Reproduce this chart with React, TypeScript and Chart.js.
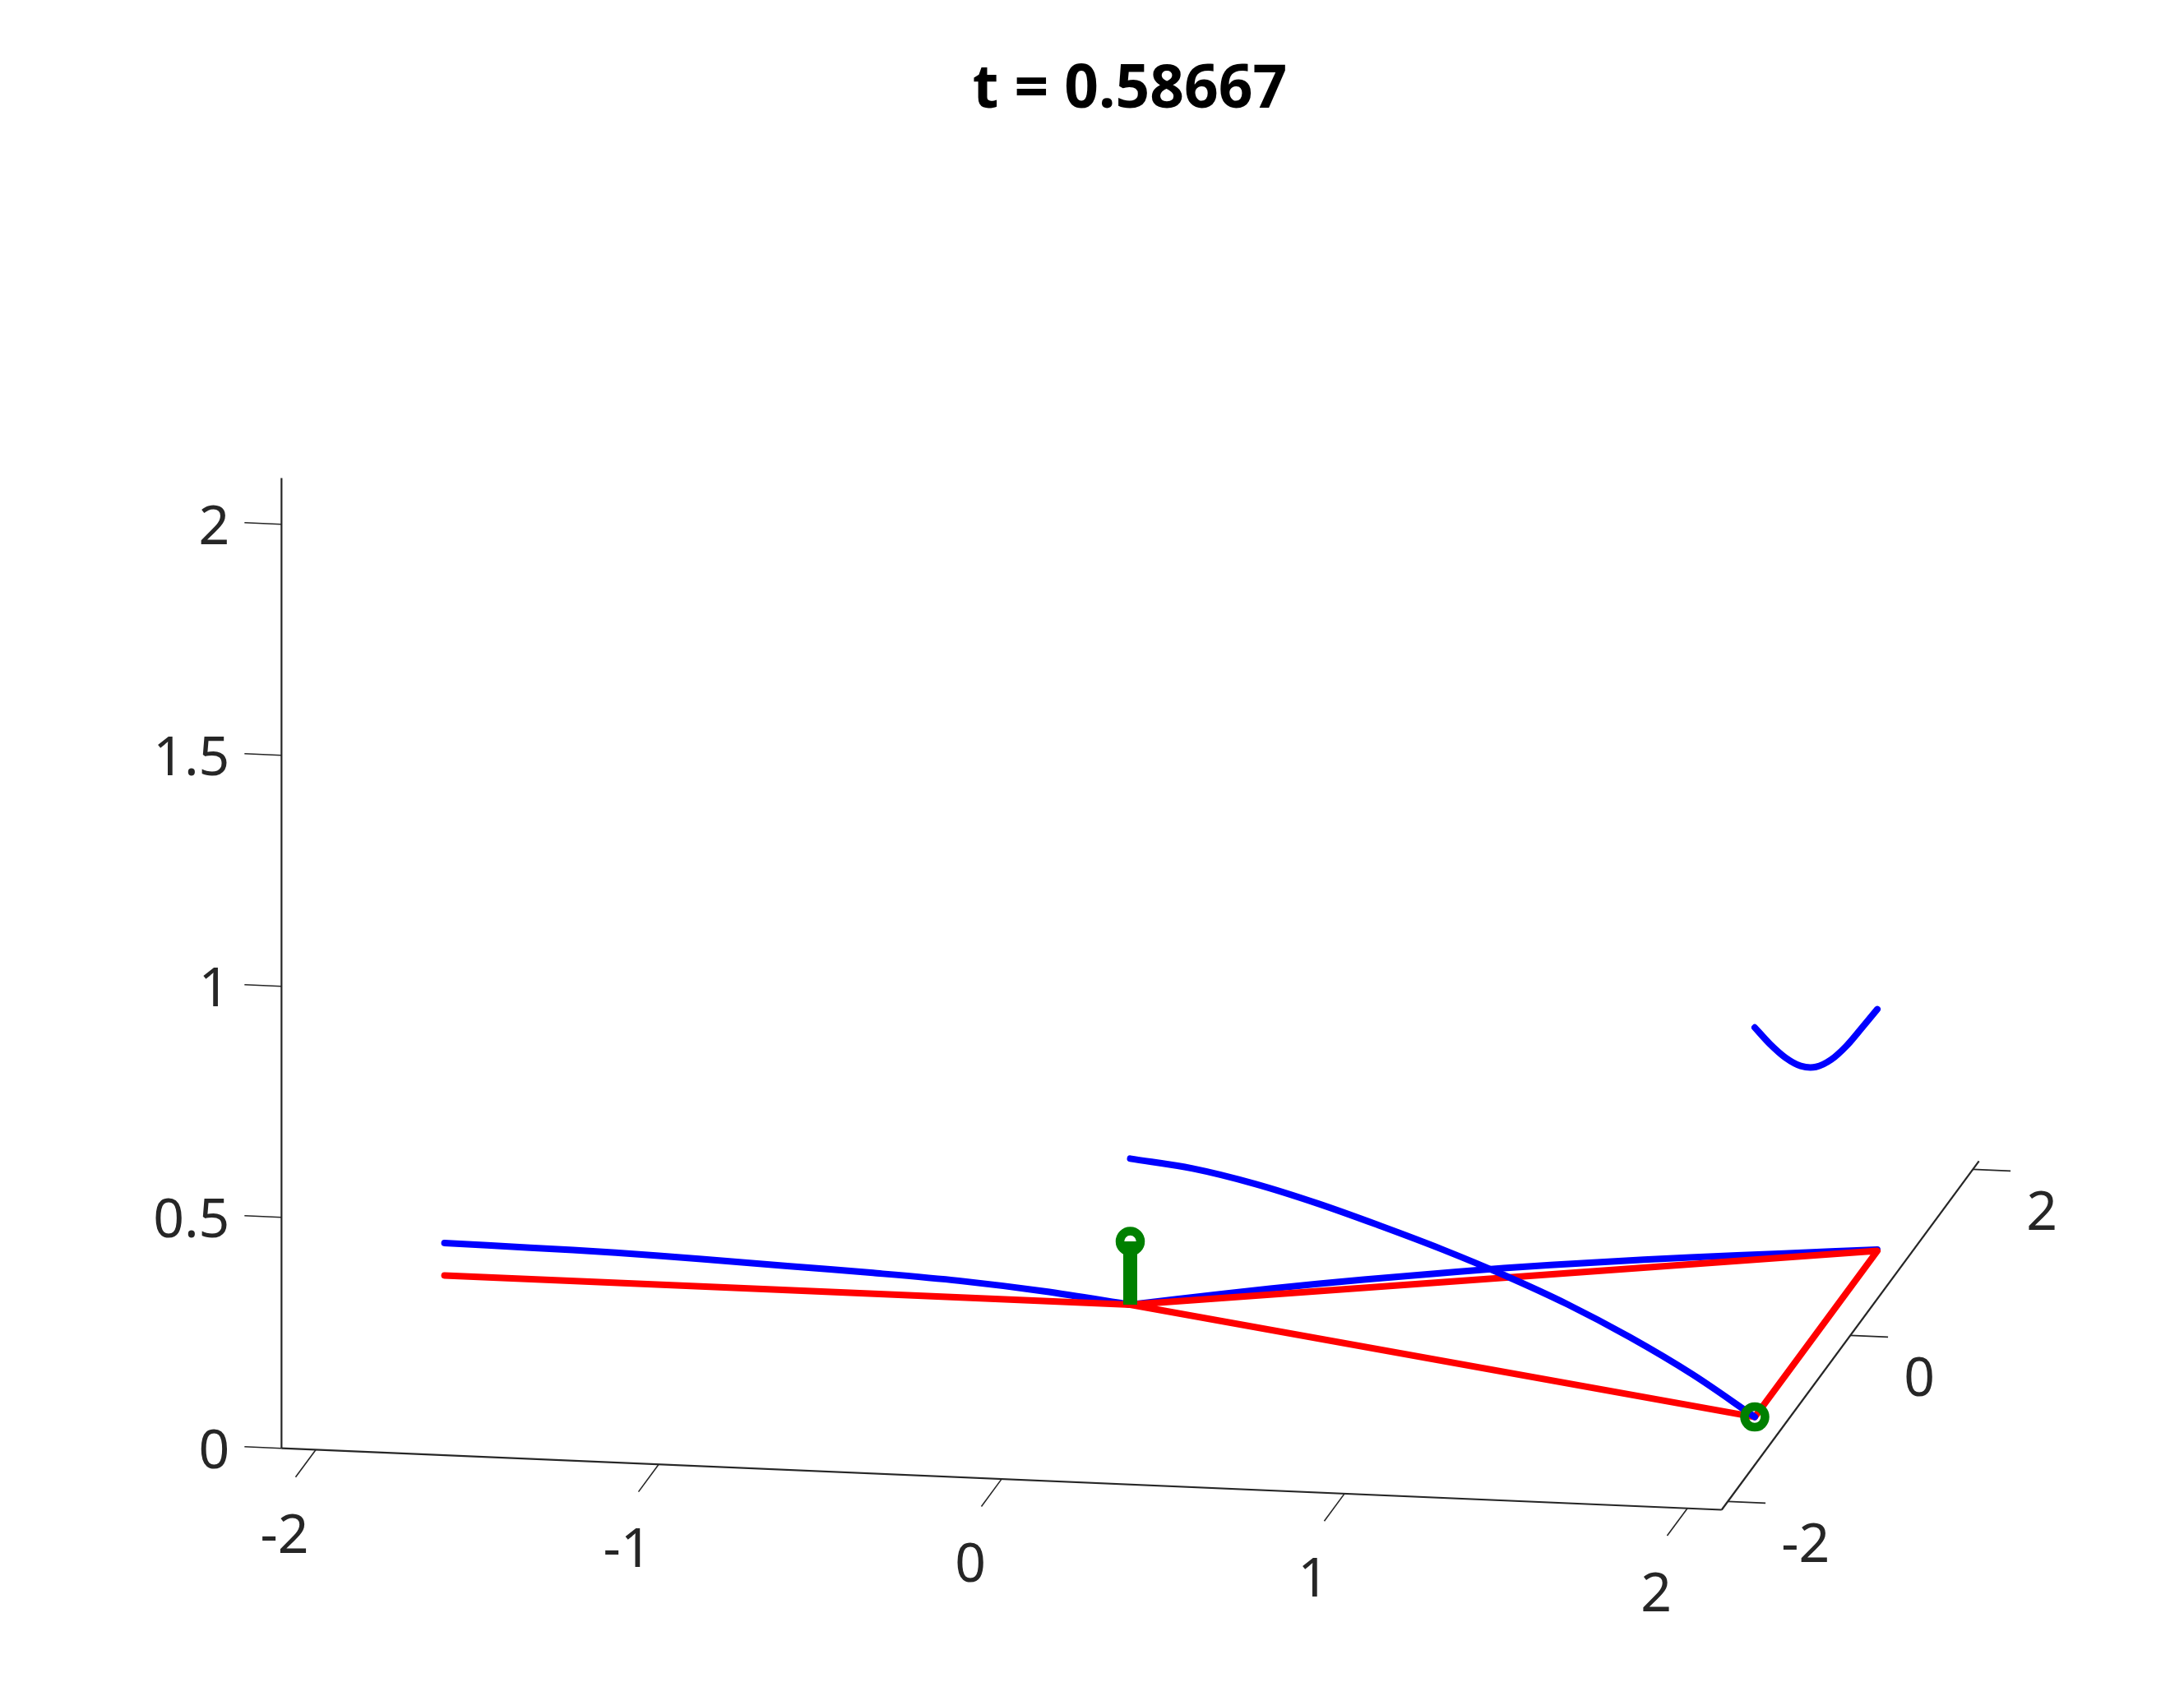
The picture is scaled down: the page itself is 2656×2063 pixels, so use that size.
import { useEffect, useRef } from "react";
import { Chart, registerables } from "chart.js";

Chart.register(...registerables);

const W = 2656;
const H = 2063;

const TITLE = "t = 0.58667";

// axis limits and ticks
const X_LIM = [-2.1, 2.1];
const Y_LIM = [-2.1, 2.1];
const Z_LIM = [0, 2.1];
const X_TICKS = [-2, -1, 0, 1, 2];
const X_TICK_LABELS = ["-2", "-1", "0", "1", "2"];
const Y_TICKS = [-2, 0, 2];
const Y_TICK_LABELS = ["-2", "0", "2"];
const Z_TICKS = [0, 0.5, 1, 1.5, 2];
const Z_TICK_LABELS = ["0", "0.5", "1", "1.5", "2"];

// undeformed frame (red): A -> B -> C -> D -> B
const FRAME_X = [-2, 0, 2, 2, 0];
const FRAME_Y = [0, 0, -1, 1, 0];
const FRAME_Z = [0, 0, 0, 0, 0];

// deformed members (blue)
const BEAM_LEFT_X = [-2, -1.75, -1.5, -1.25, -1, -0.75, -0.5, -0.25, 0];
const BEAM_LEFT_Y = [0, 0, 0, 0, 0, 0, 0, 0, 0];
const BEAM_LEFT_Z = [0.07, 0.068, 0.065, 0.059, 0.052, 0.045, 0.036, 0.021, 0];

const BEAM_RIGHT_X = [0, 0.25, 0.5, 0.75, 1, 1.25, 1.5, 1.75, 2];
const BEAM_RIGHT_Y = [0, 0.125, 0.25, 0.375, 0.5, 0.625, 0.75, 0.875, 1];
const BEAM_RIGHT_Z = [0, 0.009, 0.016, 0.019, 0.021, 0.019, 0.015, 0.009, 0.003];

const ARC_X = [0, 0.2, 0.4, 0.6, 0.8, 1.0, 1.2, 1.4, 1.6, 1.8, 2.0];
const ARC_Y = [0, -0.1, -0.2, -0.3, -0.4, -0.5, -0.6, -0.7, -0.8, -0.9, -1.0];
const ARC_Z = [0.316, 0.319, 0.31, 0.292, 0.268, 0.241, 0.209, 0.171, 0.124, 0.068, 0];

const CABLE_X = [2, 2, 2, 2, 2, 2, 2, 2, 2];
const CABLE_Y = [-1, -0.75, -0.5, -0.25, 0, 0.25, 0.5, 0.75, 1];
const CABLE_Z = [0.843, 0.762, 0.688, 0.625, 0.578, 0.549, 0.534, 0.528, 0.523];

// stems (green)
const STEM_X = [0, 2];
const STEM_Y = [0, -1];
const STEM_Z = [0.137, 0];

// view: orthographic projection of the 3-D axes onto the canvas
const VIEW = {
  origin: [1374.5, 1587],
  ex: [417, 17.8],
  ey: [74.5, -101],
  ez: [0, -562],
};

const proj = (x: number, y: number, z: number) => ({
  x: VIEW.origin[0] + x * VIEW.ex[0] + y * VIEW.ey[0] + z * VIEW.ez[0],
  y: VIEW.origin[1] + x * VIEW.ex[1] + y * VIEW.ey[1] + z * VIEW.ez[1],
});

const pts = (xs: number[], ys: number[], zs: number[]) =>
  xs.map((x, i) => proj(x, ys[i], zs[i]));

const AXIS_COLOR = "#262626";
const LINE_W = 8;

function lineDs(data: any[], color: string, width: number, tension = 0) {
  return {
    data,
    showLine: true,
    borderColor: color,
    backgroundColor: color,
    borderWidth: width,
    pointRadius: 0,
    pointHoverRadius: 0,
    tension,
    borderCapStyle: "round" as const,
    borderJoinStyle: "round" as const,
    fill: false,
  };
}

export default function App() {
  const ref = useRef<HTMLCanvasElement | null>(null);

  useEffect(() => {
    if (!ref.current) return;

    const datasets: any[] = [];

    // green markers (top)
    datasets.push({
      data: pts(STEM_X, STEM_Y, STEM_Z),
      showLine: false,
      pointStyle: "circle",
      pointRadius: 12.5,
      pointBorderWidth: 10.5,
      pointBackgroundColor: "rgba(0,0,0,0)",
      pointBorderColor: "#008000",
      borderColor: "#008000",
    });
    // green stems
    STEM_X.forEach((sx, i) => {
      datasets.push({
        ...lineDs(
          [proj(sx, STEM_Y[i], 0), proj(sx, STEM_Y[i], STEM_Z[i])],
          "#008000",
          17
        ),
        borderCapStyle: "butt",
      });
    });

    // blue arc
    datasets.push(lineDs(pts(ARC_X, ARC_Y, ARC_Z), "#0000ff", LINE_W, 0.35));
    // red frame
    datasets.push(lineDs(pts(FRAME_X, FRAME_Y, FRAME_Z), "#ff0000", LINE_W));
    // other blue members
    datasets.push(lineDs(pts(BEAM_LEFT_X, BEAM_LEFT_Y, BEAM_LEFT_Z), "#0000ff", LINE_W, 0.3));
    datasets.push(lineDs(pts(BEAM_RIGHT_X, BEAM_RIGHT_Y, BEAM_RIGHT_Z), "#0000ff", LINE_W, 0.3));
    datasets.push(lineDs(pts(CABLE_X, CABLE_Y, CABLE_Z), "#0000ff", LINE_W, 0.3));

    // axis lines
    const axisStyle = (d: any[]) => ({ ...lineDs(d, AXIS_COLOR, 2.2), borderCapStyle: "butt" });
    datasets.push(axisStyle([proj(X_LIM[0], Y_LIM[0], 0), proj(X_LIM[1], Y_LIM[0], 0)]));
    datasets.push(axisStyle([proj(X_LIM[1], Y_LIM[0], 0), proj(X_LIM[1], Y_LIM[1], 0)]));
    datasets.push(axisStyle([proj(X_LIM[0], Y_LIM[0], Z_LIM[0]), proj(X_LIM[0], Y_LIM[0], Z_LIM[1])]));

    // tick marks
    const tickStyle = (d: any[]) => ({ ...lineDs(d, AXIS_COLOR, 1.6), borderCapStyle: "butt" });
    X_TICKS.forEach((v) =>
      datasets.push(tickStyle([proj(v, Y_LIM[0], 0), proj(v, Y_LIM[0] - 0.33, 0)]))
    );
    Y_TICKS.forEach((v) =>
      datasets.push(tickStyle([proj(X_LIM[1], v, 0), proj(X_LIM[1] + 0.11, v, 0)]))
    );
    Z_TICKS.forEach((v) =>
      datasets.push(tickStyle([proj(X_LIM[0], Y_LIM[0], v), proj(X_LIM[0] - 0.108, Y_LIM[0], v)]))
    );

    const textPlugin = {
      id: "text3d",
      afterDatasetsDraw(chart: any) {
        const { ctx } = chart;
        const sx = chart.scales.x;
        const sy = chart.scales.y;
        const px = (p: { x: number; y: number }) => [
          sx.getPixelForValue(p.x),
          sy.getPixelForValue(p.y),
        ];
        ctx.save();
        ctx.fillStyle = AXIS_COLOR;
        ctx.font = '66px "Noto Sans"';
        ctx.textBaseline = "alphabetic";
        ctx.textAlign = "center";
        X_TICKS.forEach((v, i) => {
          const [a, b] = px(proj(v, Y_LIM[0], 0));
          ctx.fillText(X_TICK_LABELS[i], a - 38, b + 125);
        });
        ctx.textAlign = "left";
        Y_TICKS.forEach((v, i) => {
          const [a, b] = px(proj(X_LIM[1], v, 0));
          ctx.fillText(Y_TICK_LABELS[i], a + 65, b + 74);
        });
        ctx.textAlign = "right";
        Z_TICKS.forEach((v, i) => {
          const [a, b] = px(proj(X_LIM[0], Y_LIM[0], v));
          ctx.fillText(Z_TICK_LABELS[i], a - 63, b + 24);
        });
        ctx.fillStyle = "#000000";
        ctx.font = 'bold 73px "Noto Sans"';
        ctx.textAlign = "center";
        ctx.fillText(TITLE, 1374, 131);
        ctx.restore();
      },
    };

    const chart = new Chart(ref.current, {
      type: "scatter",
      data: { datasets },
      options: {
        animation: false,
        responsive: false,
        devicePixelRatio: 1,
        layout: { padding: 0, autoPadding: false },
        events: [],
        plugins: {
          legend: { display: false },
          tooltip: { enabled: false },
          title: { display: false },
        },
        scales: {
          x: { type: "linear", min: 0, max: W, display: false },
          y: { type: "linear", min: 0, max: H, reverse: true, display: false },
        },
      },
      plugins: [textPlugin],
    });

    return () => chart.destroy();
  }, []);

  return (
    <div
      style={{
        position: "fixed",
        left: 0,
        top: 0,
        width: W,
        height: H,
        background: "#ffffff",
      }}
    >
      <canvas ref={ref} width={W} height={H} style={{ display: "block" }} />
    </div>
  );
}
